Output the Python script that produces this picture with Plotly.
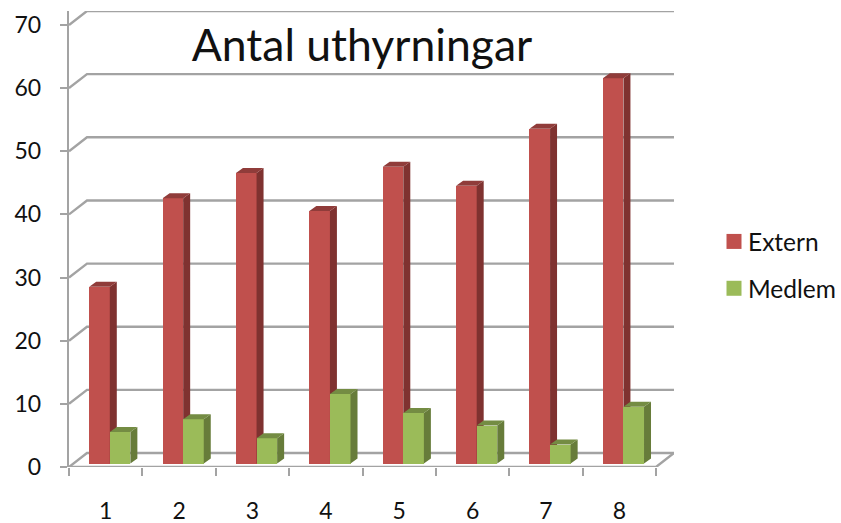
import plotly.graph_objects as go

categories = [1, 2, 3, 4, 5, 6, 7, 8]
extern = [28, 42, 46, 40, 47, 44, 53, 61]
medlem = [5, 7, 4, 11, 8, 6, 3, 9]
y_ticks = [0, 10, 20, 30, 40, 50, 60, 70]
title_text = "Antal uthyrningar"

W, H = 841, 523
LEFT, RIGHT_FRONT, BOTTOM, TOP_70 = 68.5, 656.0, 467.0, 24.5
PX_X = (RIGHT_FRONT - LEFT) / len(categories)
PX_Y = (BOTTOM - TOP_70) / 70
DX, DY = 18 / PX_X, 14 / PX_Y           # wall depth, data units
BDX, BDY = 7 / PX_X, 5 / PX_Y           # bar depth
BASE = 3.5 / PX_Y                       # bars stand a little inside the floor
BW = 20.6 / PX_X
SHIFT = 0.056
XR = [0.5, 8.5 + DX]
YR = [0, 70 + DY]
FONT = "Lato"
GRID = "#A3A3A3"
TEXT = "#111111"


def faces(values, left_off):
    sx, sy, tx, ty = [], [], [], []
    for c, v in zip(categories, values):
        l = c + left_off
        r = l + BW
        top = v + BASE
        sx += [r, r + BDX, r + BDX, r, r, None]
        sy += [BASE, BASE + BDY, top + BDY, top, BASE, None]
        tx += [l, l + BDX, r + BDX, r, l, None]
        ty += [top, top + BDY, top + BDY, top, top, None]
    return sx, sy, tx, ty


def poly(x, y, color, xa, ya):
    return go.Scatter(x=x, y=y, mode="lines", fill="toself", fillcolor=color,
                      line=dict(width=0), showlegend=False, hoverinfo="skip",
                      xaxis=xa, yaxis=ya)


fig = go.Figure()

# back wall and side wall gridlines, floor
gx, gy = [], []
for v in y_ticks:
    gx += [0.5, 0.5 + DX, 8.5 + DX, None]
    gy += [v, v + DY, v + DY, None]
gx += [0.5, 8.5, 8.5 + DX, None]
gy += [0, 0, DY, None]
fig.add_trace(go.Scatter(x=gx, y=gy, mode="lines", line=dict(color=GRID, width=2.4),
                         showlegend=False, hoverinfo="skip", cliponaxis=False))

# Extern
sx, sy, tx, ty = faces(extern, SHIFT - BW)
fig.add_trace(go.Bar(x=categories, y=extern, base=BASE, width=BW, offset=SHIFT - BW,
                     marker=dict(color="#C0504D", line=dict(width=0)),
                     showlegend=False, xaxis="x2", yaxis="y2"))
fig.add_trace(poly(sx, sy, "#7F3230", "x2", "y2"))
fig.add_trace(poly(tx, ty, "#903C3A", "x2", "y2"))

# Medlem
sx, sy, tx, ty = faces(medlem, SHIFT)
fig.add_trace(go.Bar(x=categories, y=medlem, base=BASE, width=BW, offset=SHIFT,
                     marker=dict(color="#9BBB59", line=dict(width=0)),
                     showlegend=False, xaxis="x3", yaxis="y3"))
fig.add_trace(poly(sx, sy, "#677C3A", "x3", "y3"))
fig.add_trace(poly(tx, ty, "#748C43", "x3", "y3"))

# legend keys
for name, color in [("Extern", "#C0504D"), ("Medlem", "#9BBB59")]:
    fig.add_trace(go.Scatter(x=[None], y=[None], mode="markers", name=name, legendgroup=name,
                             marker=dict(symbol="square", size=15, color=color)))

hidden = dict(range=XR, visible=False, fixedrange=True, automargin=False)
hiddeny = dict(range=YR, visible=False, fixedrange=True, automargin=False)
fig.update_layout(
    width=W, height=H,
    margin=dict(l=LEFT, r=W - (RIGHT_FRONT + 18), t=BOTTOM - PX_Y * (70 + DY), b=H - BOTTOM, pad=0,
                autoexpand=False),
    paper_bgcolor="white", plot_bgcolor="white",
    font=dict(family=FONT, size=23, color=TEXT),
    title=dict(text=title_text, x=362 / W, xanchor="center", y=1 - 45 / H, yanchor="middle",
               font=dict(family=FONT, size=44.5, color=TEXT)),
    xaxis=dict(range=XR, tickvals=[c - 0.5 for c in categories] + [8.5], showticklabels=False,
               ticks="outside", ticklen=8, tickwidth=2, tickcolor=GRID, showgrid=False,
               zeroline=False, showline=False, fixedrange=True, automargin=False),
    yaxis=dict(range=YR, tickvals=y_ticks, ticks="outside", ticklen=7, tickwidth=2, tickcolor=GRID,
               showgrid=False, zeroline=False, showline=True, linecolor=GRID, linewidth=2.4,
               ticklabelstandoff=14, fixedrange=True, automargin=False),
    xaxis2=dict(range=XR, overlaying="x", anchor="y2", tickvals=categories,
                ticktext=[str(c) for c in categories], ticks="", showgrid=False, zeroline=False,
                showline=False, ticklabelstandoff=28, fixedrange=True, automargin=False),
    yaxis2=dict(hiddeny, overlaying="y", anchor="x2"),
    xaxis3=dict(hidden, overlaying="x", anchor="y3"),
    yaxis3=dict(hiddeny, overlaying="y", anchor="x3"),
    legend=dict(xref="container", yref="container", x=708 / W, xanchor="left",
                y=1 - 219 / H, yanchor="top", tracegroupgap=12, bgcolor="rgba(0,0,0,0)",
                font=dict(family=FONT, size=24.5, color=TEXT), itemclick=False, itemdoubleclick=False),
    showlegend=True,
    bargap=0,
)

fig.write_html("out.html", config={"displayModeBar": False},
               post_script="document.body.style.margin='0';"
                           "document.querySelectorAll('.legendsymbols').forEach("
                           "function(e){e.setAttribute('transform','translate(6,0)');});")
